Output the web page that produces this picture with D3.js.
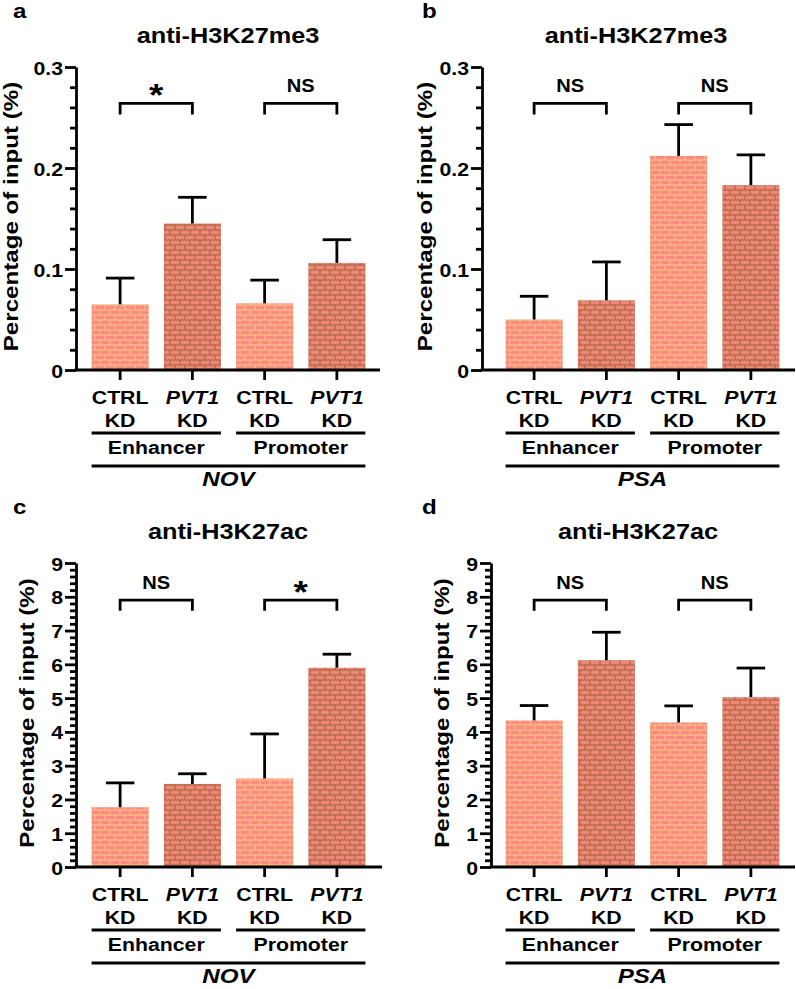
<!DOCTYPE html>
<html>
<head>
<meta charset="utf-8">
<script src="https://cdn.jsdelivr.net/npm/d3@7"></script>
<style>
body { margin: 0; background: #fff; }
svg { display: block; }
text { font-family: "Liberation Sans", Arial, sans-serif; font-weight: bold; fill: #000; }
</style>
</head>
<body>
<div id="chart"></div>
<script>
// values
const bars = ["CTRL", "PVT1", "CTRL", "PVT1"];
const regions = ["Enhancer", "Promoter"];

const meanA = [0.065, 0.145, 0.066, 0.106];
const errA  = [0.026, 0.026, 0.023, 0.023];
const meanB = [0.050, 0.069, 0.212, 0.183];
const errB  = [0.023, 0.038, 0.031, 0.030];
const meanC = [1.77, 2.46, 2.62, 5.90];
const errC  = [0.72, 0.30, 1.32, 0.40];
const meanD = [4.34, 6.12, 4.28, 5.03];
const errD  = [0.44, 0.83, 0.49, 0.86];

const sigA = ["*", "NS"];
const sigB = ["NS", "NS"];
const sigC = ["NS", "*"];
const sigD = ["NS", "NS"];

const ticksSmall = [0, 0.1, 0.2, 0.3];
const ticksBig = [0, 1, 2, 3, 4, 5, 6, 7, 8, 9];

const SX = 1.15; // the figure's lettering is wider than Arial

const svg = d3.select("#chart")
    .append("svg")
    .attr("width", 796)
    .attr("height", 989);

// brick fills
const defs = svg.append("defs");
function brick(id, mortar, stone) {
    const p = defs.append("pattern")
        .attr("id", id)
        .attr("patternUnits", "userSpaceOnUse")
        .attr("width", 10)
        .attr("height", 10);
    p.append("rect").attr("width", 10).attr("height", 10).attr("fill", mortar);
    p.append("rect").attr("x", 0.6).attr("y", 0.6).attr("width", 8.8).attr("height", 3.8).attr("fill", stone);
    p.append("rect").attr("x", -4.4).attr("y", 5.6).attr("width", 8.8).attr("height", 3.8).attr("fill", stone);
    p.append("rect").attr("x", 5.6).attr("y", 5.6).attr("width", 8.8).attr("height", 3.8).attr("fill", stone);
}
brick("ctrl", "#f7c080", "#fa8a82");
brick("pvt", "#a66b3e", "#f28579");

function label(g, x, y, s, size, opts = {}) {
    return g.append("text")
        .attr("transform", `translate(${x},${y}) scale(${SX},1)`)
        .attr("text-anchor", opts.anchor || "middle")
        .style("font-size", size + "px")
        .style("font-style", opts.italic ? "italic" : "normal")
        .text(s);
}

const fmtSmall = d => d === 0 ? "0" : d3.format(".1f")(d);
const fmtBig = d => d3.format("d")(d);

const panels = [
    { letter: "a", title: "anti-H3K27me3", gene: "NOV", mean: meanA, err: errA, sig: sigA,
      ticks: ticksSmall, minor: 0.02, fmt: fmtSmall, axisX: 76, xr: [84, 373], xEnd: 380,
      top: 67, base: 370, ylabX: 17.5, titleX: 228, letX: 13, br: [0.253, 0.264] },
    { letter: "b", title: "anti-H3K27me3", gene: "PSA", mean: meanB, err: errB, sig: sigB,
      ticks: ticksSmall, minor: 0.02, fmt: fmtSmall, axisX: 482, xr: [498, 787], xEnd: 795,
      top: 67, base: 370, ylabX: 431.5, titleX: 636, letX: 422, br: [0.253, 0.264] },
    { letter: "c", title: "anti-H3K27ac", gene: "NOV", mean: meanC, err: errC, sig: sigC,
      ticks: ticksBig, minor: 0.2, fmt: fmtBig, axisX: 76, xr: [84, 373], xEnd: 382,
      top: 563, base: 867, ylabX: 34, titleX: 228, letX: 13, br: [7.59, 7.9] },
    { letter: "d", title: "anti-H3K27ac", gene: "PSA", mean: meanD, err: errD, sig: sigD,
      ticks: ticksBig, minor: 0.2, fmt: fmtBig, axisX: 491, xr: [498, 787], xEnd: 795,
      top: 563, base: 867, ylabX: 449, titleX: 638, letX: 422, br: [7.59, 7.9] }
];

panels.forEach(p => {
    const g = svg.append("g");
    const ymax = p.ticks[p.ticks.length - 1];
    const y = d3.scaleLinear().domain([0, ymax]).range([p.base, p.top]);
    const x = d3.scaleBand().domain(d3.range(bars.length)).range(p.xr)
        .paddingInner(0.21).paddingOuter(0.105);
    const bw = x.bandwidth();
    const cx = i => x(i) + bw / 2;

    // bars
    g.selectAll(".bar")
        .data(p.mean)
        .join("rect")
            .attr("class", "bar")
            .attr("x", (d, i) => x(i))
            .attr("y", d => y(d))
            .attr("width", bw)
            .attr("height", d => y(0) - y(d))
            .attr("fill", (d, i) => bars[i] === "CTRL" ? "url(#ctrl)" : "url(#pvt)");

    // upper error bars
    const eb = g.selectAll(".err")
        .data(p.mean)
        .join("g")
            .attr("class", "err")
            .attr("stroke", "#000")
            .attr("stroke-width", 2.8);
    eb.append("line")
        .attr("x1", (d, i) => cx(i)).attr("x2", (d, i) => cx(i))
        .attr("y1", d => y(d)).attr("y2", (d, i) => y(d + p.err[i]));
    eb.append("line")
        .attr("x1", (d, i) => cx(i) - bw / 4).attr("x2", (d, i) => cx(i) + bw / 4)
        .attr("y1", (d, i) => y(d + p.err[i])).attr("y2", (d, i) => y(d + p.err[i]));

    // y axis, major + minor
    const ax = g.append("g")
        .attr("transform", `translate(${p.axisX},0)`)
        .call(d3.axisLeft(y).tickValues(p.ticks).tickSize(11).tickSizeOuter(0)
            .tickPadding(2).tickFormat(p.fmt));
    ax.selectAll("text")
        .attr("x", -13 / SX)
        .attr("dy", "0.38em")
        .attr("transform", `scale(${SX},1)`)
        .style("font-size", "18.5px")
        .style("font-family", "'Liberation Sans', Arial, sans-serif")
        .style("font-weight", "bold");
    const minors = d3.range(0, ymax + 1e-9, p.minor).filter(v => !p.ticks.some(t => Math.abs(t - v) < 1e-9));
    const mx = g.append("g")
        .attr("transform", `translate(${p.axisX},0)`)
        .call(d3.axisLeft(y).tickValues(minors).tickSize(6).tickFormat(""));
    mx.select(".domain").remove();
    g.selectAll(".domain, .tick line").attr("stroke", "#000").attr("stroke-width", 2.8);

    // x axis
    g.append("line")
        .attr("x1", p.axisX - 1.4).attr("x2", p.xEnd)
        .attr("y1", y(0)).attr("y2", y(0))
        .attr("stroke", "#000").attr("stroke-width", 2.8);
    g.selectAll(".xtick")
        .data(bars)
        .join("line")
            .attr("class", "xtick")
            .attr("x1", (d, i) => cx(i)).attr("x2", (d, i) => cx(i))
            .attr("y1", y(0)).attr("y2", y(0) + 10)
            .attr("stroke", "#000").attr("stroke-width", 2.8);

    // category labels
    bars.forEach((b, i) => {
        label(g, cx(i), p.base + 34, b, 18.5, { italic: b === "PVT1" });
        label(g, cx(i), p.base + 57, "KD", 18.5);
    });
    regions.forEach((r, k) => {
        const x1 = x(2 * k), x2 = x(2 * k + 1) + bw;
        g.append("line")
            .attr("x1", x1).attr("x2", x2)
            .attr("y1", p.base + 63).attr("y2", p.base + 63)
            .attr("stroke", "#000").attr("stroke-width", 2.8);
        label(g, (x1 + x2) / 2, p.base + 84, r, 18.5);
    });
    g.append("line")
        .attr("x1", x(0)).attr("x2", x(3) + bw)
        .attr("y1", p.base + 96).attr("y2", p.base + 96)
        .attr("stroke", "#000").attr("stroke-width", 2.8);
    label(g, (x(0) + x(3) + bw) / 2, p.base + 116, p.gene, 21, { italic: true });

    // significance brackets
    p.sig.forEach((s, k) => {
        const x1 = cx(2 * k), x2 = cx(2 * k + 1);
        const yb = y(p.br[1]), yl = y(p.br[0]);
        g.append("path")
            .attr("d", `M${x1},${yl}V${yb}H${x2}V${yl}`)
            .attr("fill", "none")
            .attr("stroke", "#000").attr("stroke-width", 2.8);
        if (s === "*") label(g, (x1 + x2) / 2, yb + 3, s, 32);
        else label(g, (x1 + x2) / 2, yb - 11, s, 17.5);
    });

    // titles
    label(g, p.titleX, p.top - 24, p.title, 22);
    label(g, p.letX, p.top - 49, p.letter, 21, { anchor: "start" });
    g.append("text")
        .attr("transform", `translate(${p.ylabX},${(p.top + p.base) / 2 - 2}) rotate(-90) scale(${SX},1)`)
        .attr("text-anchor", "middle")
        .style("font-size", "21px")
        .text("Percentage of input  (%)");
});
</script>
</body>
</html>
